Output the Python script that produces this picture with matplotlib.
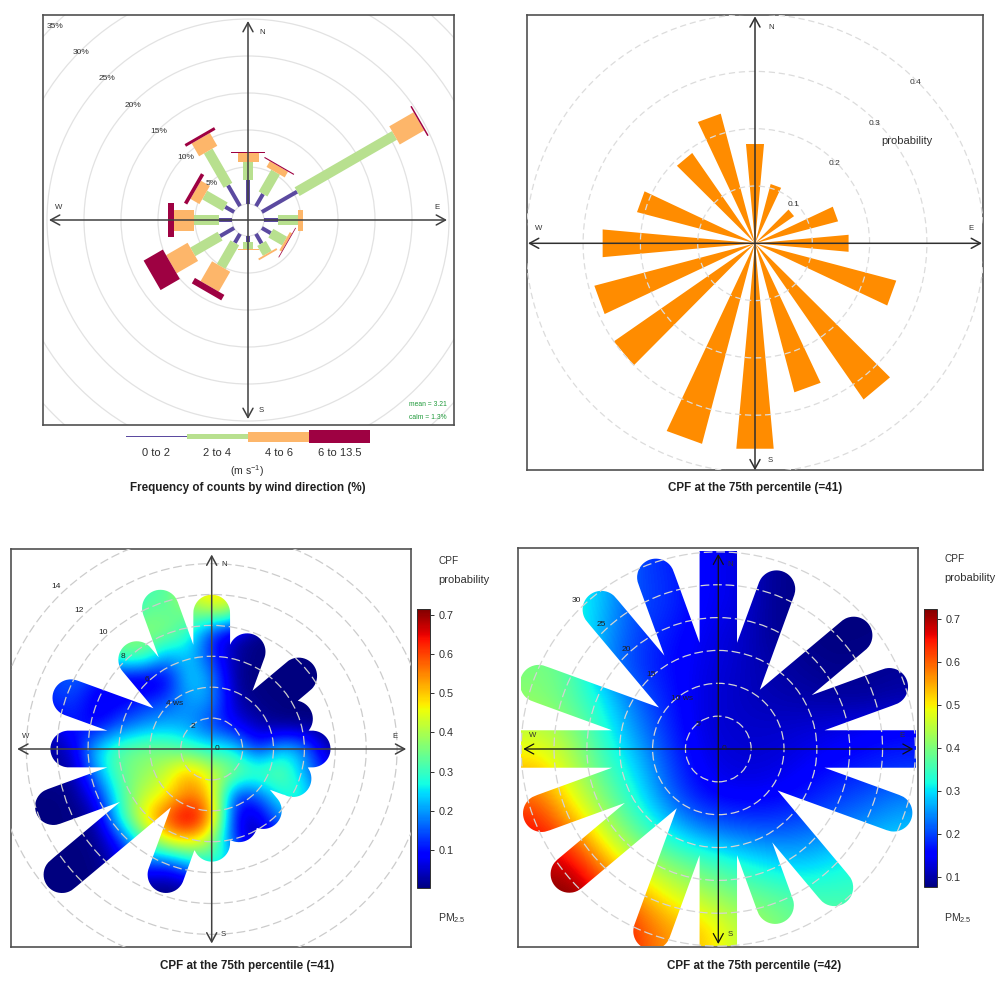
import numpy as np
import matplotlib
matplotlib.use('Agg')
import matplotlib.pyplot as plt
from matplotlib.colors import Normalize
from matplotlib.patches import Circle, PathPatch, Polygon, Rectangle
from matplotlib.path import Path

plt.rcParams['font.family'] = ['Liberation Sans', 'DejaVu Sans']
plt.rcParams['mathtext.default'] = 'regular'

W, H = 1004, 1001

# --- panel A, wind rose: frequency (%) per direction and speed bin
rose_dirs = [0, 30, 60, 90, 120, 150, 180, 210, 240, 270, 300, 330]
freq_0_2 = [3.2, 1.9, 5.5, 1.9, 1.4, 1.5, 0.8, 1.4, 2.2, 1.7, 1.4, 3.25]
freq_2_4 = [2.5, 3.4, 15.2, 2.7, 2.15, 1.55, 0.9, 3.7, 4.25, 3.5, 3.2, 5.35]
freq_4_6 = [1.2, 0.9, 3.8, 0.7, 0.35, 0.25, 0.15, 3.1, 3.35, 2.7, 1.4, 2.0]
freq_6_13 = [0.1, 0.15, 0.2, 0.0, 0.1, 0.0, 0.0, 0.85, 3.0, 0.8, 0.5, 0.4]
speed_labels = ['0 to 2', '2 to 4', '4 to 6', '6 to 13.5']
speed_colors = ['#5B4AA0', '#B8E08F', '#FDB66A', '#9E0142']
rose_rings = [5, 10, 15, 20, 25, 30, 35]

# --- panel B, CPF probability per direction
cpf_dirs = [0, 20, 50, 70, 90, 110, 140, 160, 180, 200, 230, 250, 270, 290, 320, 340]
cpf_prob = [0.174, 0.107, 0.083, 0.15, 0.164, 0.255, 0.332, 0.269, 0.36, 0.362,
            0.30, 0.29, 0.267, 0.213, 0.192, 0.234]
cpf_rings = [0.1, 0.2, 0.3, 0.4]

# --- panel C, polar plot: spoke lengths (ws) and field read on a 1.5 ws grid
c_spokes = [8.8, 6.7, 7.35, 5.7, 6.5, 5.6, 5.2, 5.15, 6.1, 8.65, 12.65, 10.9, 9.25, 9.7, 7.55, 9.7]
c_x = [-12, -10.5, -9, -7.5, -6, -4.5, -3, -1.5, 0, 1.5, 3, 4.5, 6, 7.5, 9, 10.5]
c_y = [10.5, 9, 7.5, 6, 4.5, 3, 1.5, 0, -1.5, -3, -4.5, -6, -7.5, -9, -10.5]
c_field = [
    [.02, .02, .02, .05, .15, .33, .30, .47, .50, .47, .10, .01, .005, .005, .005, .005],
    [.02, .02, .02, .05, .20, .34, .33, .35, .44, .42, .10, .01, .005, .005, .005, .005],
    [.02, .02, .02, .33, .37, .37, .37, .30, .10, .04, .003, .003, .003, .003, .003, .003],
    [.05, .10, .15, .26, .33, .35, .20, .24, .12, .02, .003, .003, .003, .003, .003, .003],
    [.10, .13, .17, .10, .05, .04, .05, .26, .20, .01, .003, .003, .003, .003, .003, .003],
    [.10, .12, .13, .07, .08, .12, .15, .20, .20, .03, .005, .003, .003, .003, .003, .003],
    [.03, .05, .12, .07, .15, .19, .22, .20, .12, .08, .03, .005, .003, .003, .003, .003],
    [.01, .02, .05, .25, .33, .36, .35, .30, .28, .26, .10, .25, .20, .02, .01, .005],
    [.01, .02, .02, .20, .34, .37, .42, .54, .42, .38, .33, .36, .20, .10, .02, .005],
    [.003, .003, .005, .09, .30, .42, .46, .56, .50, .10, .15, .28, .30, .10, .02, .005],
    [.003, .003, .005, .02, .27, .47, .60, .72, .55, .06, .04, .20, .20, .10, .01, .005],
    [.003, .003, .005, .005, .10, .30, .45, .48, .38, .10, .02, .10, .10, .02, .005, .005],
    [.003, .003, .003, .003, .05, .15, .10, .20, .30, .28, .10, .02, .01, .005, .005, .005],
    [.003, .003, .003, .003, .003, .003, .003, .01, .02, .01, .003, .003, .003, .003, .003, .003],
    [.003, .003, .003, .003, .003, .003, .003, .003, .003, .003, .003, .003, .003, .003, .003, .003],
]
c_rings = [2, 4, 6, 8, 10, 12, 14]

# --- panel D, same thing on a 5 ws grid
d_spokes = [32.5, 25.9, 26.9, 27.7, 32.5, 28.4, 27.5, 25.3, 32.5, 29.5, 29.6, 28.6, 32.5, 29.1, 27.7, 27.8]
d_x = [-27.5, -22.5, -17.5, -12.5, -7.5, -2.5, 2.5, 7.5, 12.5, 17.5, 22.5, 27.5]
d_y = d_x[::-1]
d_field = [
    [.35, .32, .28, .20, .18, .145, .14, .09, .08, .08, .08, .08],
    [.36, .33, .28, .20, .19, .145, .14, .09, .08, .075, .075, .08],
    [.38, .34, .26, .20, .17, .14, .125, .09, .08, .075, .075, .08],
    [.40, .38, .25, .19, .16, .135, .12, .10, .09, .08, .085, .09],
    [.41, .37, .31, .22, .17, .13, .115, .105, .10, .095, .09, .10],
    [.46, .42, .33, .25, .18, .13, .12, .12, .125, .135, .15, .16],
    [.52, .45, .36, .29, .20, .14, .125, .125, .14, .16, .17, .18],
    [.60, .49, .40, .32, .22, .16, .145, .15, .165, .19, .21, .24],
    [.66, .58, .46, .37, .30, .24, .22, .21, .22, .24, .26, .28],
    [.68, .68, .56, .46, .40, .37, .33, .30, .28, .31, .33, .33],
    [.72, .73, .66, .56, .49, .44, .40, .38, .36, .35, .35, .35],
    [.72, .72, .70, .62, .56, .53, .46, .42, .38, .38, .38, .38],
]
d_rings = [5, 10, 15, 20, 25, 30]
c_ticks = [0.1, 0.2, 0.3, 0.4, 0.5, 0.6, 0.7]
d_ticks = [0.1, 0.2, 0.3, 0.4, 0.5, 0.6, 0.7]

fig = plt.figure(figsize=(W / 100, H / 100), dpi=100, facecolor='white')

# overlay in pixel units for everything outside the panels
ov = fig.add_axes([0, 0, 1, 1], zorder=5)
ov.set_xlim(0, W)
ov.set_ylim(H, 0)
ov.axis('off')


def px_axes(x0, y0, x1, y1):
    return fig.add_axes([x0 / W, 1 - y1 / H, (x1 - x0) / W, (y1 - y0) / H])


def panel(x0, y0, x1, y1, cx, cy, scale):
    ax = px_axes(x0, y0, x1, y1)
    ax.set_xlim((x0 - cx) / scale, (x1 - cx) / scale)
    ax.set_ylim((cy - y1) / scale, (cy - y0) / scale)
    ax.set_xticks([])
    ax.set_yticks([])
    for s in ax.spines.values():
        s.set_color('#505050')
        s.set_linewidth(1.2)
    return ax


def polar_xy(r, deg):
    a = np.radians(deg)
    return r * np.sin(a), r * np.cos(a)


def rings(ax, radii, ls, color, lw=0.9):
    for r in radii:
        ax.add_patch(Circle((0, 0), r, fill=False, ec=color, lw=lw, ls=ls, zorder=3))


def compass(ax, r, color, labels, fs=5.6, lw=1.1):
    for a, b in [((-r, 0), (r, 0)), ((0, -r), (0, r))]:
        ax.annotate('', xy=b, xytext=a, zorder=6,
                    arrowprops=dict(arrowstyle='<->,head_length=0.55,head_width=0.3', color=color,
                                    lw=lw, shrinkA=0, shrinkB=0, mutation_scale=12))
    for txt, x, y in labels:
        ov.text(x, y, txt, fontsize=fs, color='#303030', ha='center', va='center')


def capsule_outline(dirs, lengths, w):
    theta = np.radians(np.arange(0, 360, 0.25))
    best = np.zeros_like(theta)
    for deg, L in zip(dirs, lengths):
        d = (theta - np.radians(deg) + np.pi) % (2 * np.pi) - np.pi
        front = np.abs(d) < np.pi / 2
        s = np.abs(np.sin(d))
        r = np.zeros_like(theta)
        cap = front & (L * s <= w)
        r[cap] = L * np.cos(d[cap]) + np.sqrt(w ** 2 - (L * s[cap]) ** 2)
        side = front & ~cap
        r[side] = w / s[side]
        best = np.maximum(best, r)
    return np.column_stack([best * np.sin(theta), best * np.cos(theta)])


def heat_panel(ax, xs, ys, field, dirs, spokes, cap, vmin, vmax):
    step = abs(xs[1] - xs[0])
    ext = [xs[0] - step / 2, xs[-1] + step / 2, ys[-1] - step / 2, ys[0] + step / 2]
    lims = ax.get_xlim(), ax.get_ylim()
    im = ax.imshow(field, extent=ext, origin='upper', cmap='jet', norm=Normalize(vmin, vmax),
                   interpolation='bicubic', aspect='auto', zorder=1)
    ax.set_xlim(lims[0])
    ax.set_ylim(lims[1])
    im.set_clip_path(PathPatch(Path(capsule_outline(dirs, spokes, cap), closed=False), transform=ax.transData))
    return im


def colorbar(im, x0, y0, x1, y1, ticks):
    cax = px_axes(x0, y0, x1, y1)
    cb = fig.colorbar(im, cax=cax, ticks=ticks)
    cb.ax.tick_params(labelsize=7.8, labelcolor='#303030', color='#303030', length=3, width=0.7, pad=3)
    cb.outline.set_linewidth(0.7)
    cb.outline.set_edgecolor('#303030')


# ---------- panel A
r0 = 16 / 7.4
axa = panel(43, 15, 454, 425, 248, 220, 7.4)
axa.add_patch(Circle((0, 0), r0, fill=False, ec='#e2e2e2', lw=0.8))
for p in rose_rings:
    axa.add_patch(Circle((0, 0), r0 + p, fill=False, ec='#e2e2e2', lw=0.9, zorder=1))
    x, y = polar_xy(r0 + p - 0.2, 315)
    axa.text(x, y, '%d%%' % p, fontsize=6, color='#303030', ha='center', va='center', zorder=5)
half_w = [2 / 7.4, 5 / 7.4, 10.5 / 7.4, 17 / 7.4]
bins = np.array([freq_0_2, freq_2_4, freq_4_6, freq_6_13])
tops = np.cumsum(bins, axis=0)
for j, deg in enumerate(rose_dirs):
    a = np.radians(deg)
    u = np.array([np.sin(a), np.cos(a)])
    v = np.array([np.cos(a), -np.sin(a)])
    low = 0.0
    for i in range(4):
        hi = tops[i, j]
        if hi > low:
            p0, p1 = (r0 + low) * u, (r0 + hi) * u
            axa.add_patch(Polygon([p0 - half_w[i] * v, p1 - half_w[i] * v, p1 + half_w[i] * v, p0 + half_w[i] * v],
                                  fc=speed_colors[i], ec='none', zorder=2))
        low = hi
compass(axa, 199 / 7.4, '#404040',
        [('N', 261.7, 32.7), ('S', 261, 410), ('W', 58.3, 207.7), ('E', 436.7, 207.7)])
ov.text(446.7, 405, 'mean = 3.21', fontsize=4.9, color='#1f9a3a', ha='right', va='center')
ov.text(446.7, 417.3, 'calm = 1.3%', fontsize=4.9, color='#1f9a3a', ha='right', va='center')

# legend key
key_x = [125.7, 186.7, 248.3, 309.3, 370]
key_h = [1.4, 5.4, 10, 12.6]
for i in range(4):
    ov.add_patch(Rectangle((key_x[i], 436.7 - key_h[i] / 2), key_x[i + 1] - key_x[i], key_h[i],
                           fc=speed_colors[i], ec='none'))
    ov.text((key_x[i] + key_x[i + 1]) / 2, 453, speed_labels[i], fontsize=8, color='#303030',
            ha='center', va='center')
ov.text(247.3, 471.5, '(m s$^{-1}$)', fontsize=7.6, color='#303030', ha='center', va='center')
ov.text(248.3, 488.3, 'Frequency of counts by wind direction (%)', fontsize=8.4, fontweight='bold',
        color='#202020', ha='center', va='center')

# ---------- panel B
axb = panel(527.3, 15, 983.3, 470, 755, 243.3, 573.0)
half = 5.2
for deg, p in zip(cpf_dirs, cpf_prob):
    x1, y1 = polar_xy(p, deg - half)
    x2, y2 = polar_xy(p, deg + half)
    axb.add_patch(Polygon([(0, 0), (x1, y1), (x2, y2)], fc='#FF8C00', ec='none', zorder=2))
rings(axb, cpf_rings, (0, (5, 3)), '#dcdcdc')
for p in cpf_rings:
    x, y = polar_xy(p - 0.004, 45)
    axb.text(x, y, '%.1f' % p, fontsize=6, color='#303030', ha='center', va='center', zorder=5)
compass(axb, 227 / 573.0, '#303030',
        [('N', 770.7, 27.7), ('S', 770.7, 460.7), ('W', 538.3, 228.7), ('E', 970.7, 228.7)])
ov.text(906.7, 141, 'probability', fontsize=8, color='#303030', ha='center', va='center')
ov.text(754.7, 488.3, 'CPF at the 75th percentile (=41)', fontsize=8.4, fontweight='bold',
        color='#202020', ha='center', va='center')

# ---------- panel C
axc = panel(11, 549.3, 410.7, 947.3, 211.7, 749, 15.45)
imc = heat_panel(axc, c_x, c_y, c_field, cpf_dirs, c_spokes, 1.19, 0.002, 0.715)
rings(axc, c_rings, (0, (7, 3)), '#cccccc')
for txt, x, y in [('14', 56, 586), ('12', 79, 610), ('10', 102.7, 632.7), ('8', 123.3, 656.7),
                  ('6', 146.7, 679.3), ('4 ws', 175, 703.3), ('2', 192.7, 726.7), ('0', 217.3, 749)]:
    ov.text(x, y, txt, fontsize=6, color='#202020', ha='center', va='center')
compass(axc, 194.5 / 15.45, '#404040',
        [('N', 224, 565), ('S', 223.3, 934), ('W', 25.7, 736), ('E', 395, 736)])
colorbar(imc, 416.7, 609, 430, 888.3, c_ticks)
ov.text(438.3, 560.7, 'CPF', fontsize=7.2, color='#303030', ha='left', va='center')
ov.text(438.3, 580, 'probability', fontsize=8, color='#303030', ha='left', va='center')
ov.text(438.3, 918, 'PM$_{2.5}$', fontsize=7.6, color='#303030', ha='left', va='center')
ov.text(247.3, 966, 'CPF at the 75th percentile (=41)', fontsize=8.4, fontweight='bold',
        color='#202020', ha='center', va='center')

# ---------- panel D
axd = panel(518.3, 548.3, 918.3, 947.3, 718.3, 749, 6.57)
imd = heat_panel(axd, d_x, d_y, d_field, cpf_dirs, d_spokes, 2.85, 0.075, 0.723)
rings(axd, d_rings, (0, (7, 3)), '#d4d4d4')
for txt, x, y in [('30', 576.7, 600), ('25', 601, 625), ('20', 626, 649.3), ('15', 651.3, 674.3),
                  ('10 ws', 681.7, 699), ('5', 698.3, 724.3), ('0', 723.7, 749)]:
    ov.text(x, y, txt, fontsize=6, color='#202020', ha='center', va='center')
compass(axd, 195 / 6.57, '#101010',
        [('N', 730, 564), ('S', 730.7, 934.3), ('W', 532.3, 735.7), ('E', 901.7, 735.7)], lw=0.9)
colorbar(imd, 924, 609, 937, 887.3, d_ticks)
ov.text(944.3, 559.3, 'CPF', fontsize=7.2, color='#303030', ha='left', va='center')
ov.text(944.3, 578.3, 'probability', fontsize=8, color='#303030', ha='left', va='center')
ov.text(944.3, 918, 'PM$_{2.5}$', fontsize=7.6, color='#303030', ha='left', va='center')
ov.text(754, 966, 'CPF at the 75th percentile (=42)', fontsize=8.4, fontweight='bold',
        color='#202020', ha='center', va='center')

fig.savefig('out.png', dpi=100)
